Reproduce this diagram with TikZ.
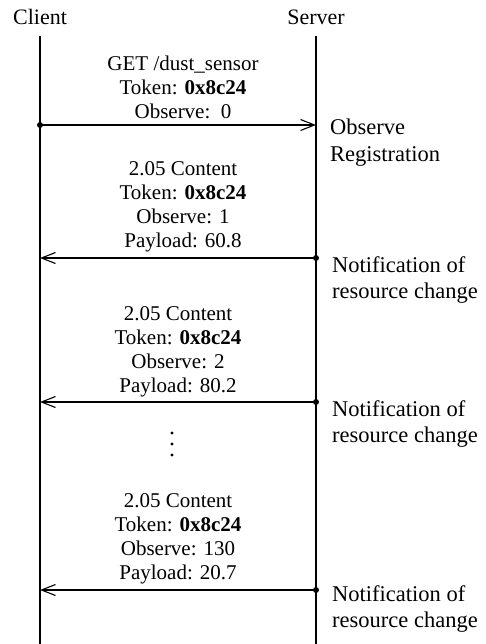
\documentclass[tikz,border=0pt]{standalone}
\usepackage{fontspec}
\setmainfont{Liberation Serif}
\usetikzlibrary{arrows.meta}
\begin{document}
\begin{tikzpicture}[x=1pt,y=-1pt,
  lifeline/.style={line width=1.4pt},
  msg/.style={line width=1.2pt,-{Straight Barb[length=14pt,width=11pt,line width=1.1pt]}},
  msgtext/.style={font=\fontsize{21}{24}\selectfont,align=center,inner sep=0pt,anchor=south},
  sidetext/.style={font=\fontsize{22.5}{26.5}\selectfont,align=left,inner sep=0pt,anchor=north west},
  head/.style={font=\fontsize{22}{26}\selectfont,inner sep=0pt,anchor=base},
  dot/.style={circle,fill=black,inner sep=0pt,minimum size=6pt}]
\useasboundingbox (0,0) rectangle (485,644);

% participants
\node[head] (client) at (40,25) {Client};
\node[head] (server) at (316,25) {Server};
\coordinate (ctop) at (40,36);
\coordinate (cbot) at (40,644);
\coordinate (stop) at (316,36);
\coordinate (sbot) at (316,644);
\draw[lifeline] (ctop) -- (cbot);
\draw[lifeline] (stop) -- (sbot);

% message anchor points on the lifelines
\foreach \n/\y in {1/125,2/258,3/402,4/590}{
  \coordinate (c\n) at (40,\y);
  \coordinate (s\n) at (316,\y);
}

% registration request
\node[dot] (d1) at (c1) {};
\draw[msg] (d1.center) -- (s1);
\node[msgtext] (m1) at (183,119) {GET /dust\_sensor\\Token: \textbf{0x8c24}\\Observe:\enspace 0};
\node[sidetext] (r1) at (330,119) {Observe\\Registration};

% notifications
\node[dot] (d2) at (s2) {};
\draw[msg] (d2.center) -- (c2);
\node[msgtext] (m2) at (183,252) {2.05 Content\\Token: \textbf{0x8c24}\\Observe: 1\\Payload: 60.8};
\node[sidetext] (r2) at (332,256) {Notification of\\resource change};

\node[dot] (d3) at (s3) {};
\draw[msg] (d3.center) -- (c3);
\node[msgtext] (m3) at (178,397) {2.05 Content\\Token: \textbf{0x8c24}\\Observe: 2\\Payload: 80.2};
\node[sidetext] (r3) at (332,400) {Notification of\\resource change};

% ellipsis between notifications
\foreach \y in {433,444,455}{
  \fill (172,\y) circle (1.7pt);
}

\node[dot] (d4) at (s4) {};
\draw[msg] (d4.center) -- (c4);
\node[msgtext] (m4) at (178,584) {2.05 Content\\Token: \textbf{0x8c24}\\Observe: 130\\Payload: 20.7};
\node[sidetext] (r4) at (332,585) {Notification of\\resource change};
\end{tikzpicture}
\end{document}
